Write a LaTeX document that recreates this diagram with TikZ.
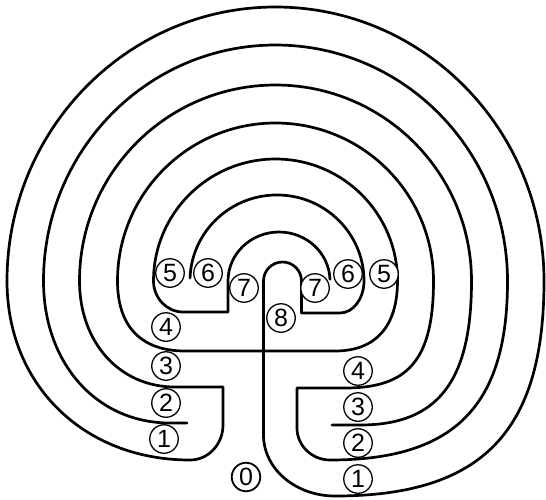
\documentclass[tikz,border=0pt]{standalone}
\usepackage{fontspec}
\setmainfont{Liberation Sans}
\begin{document}
\begin{tikzpicture}[x=1pt,y=-1pt,
  wall/.style={line width=2.7pt, line join=round, line cap=round},
  lab/.style={circle, draw, fill=white, line width=1.3pt, inner sep=0pt, minimum size=28.5pt, font=\fontsize{25}{25}\selectfont}]
\useasboundingbox (0,0) rectangle (546,499);
% wall one
\draw[wall] (190.05,277.96) arc[start angle=182, end angle=360, x radius=87, y radius=86]
  .. controls (364,298.6) and (353.2,313) .. (340,313) -- (301.5,313) -- (301.5,281)
  arc[start angle=360, end angle=180, radius=19]
  -- (263.5,435) .. controls (263.5,469) and (295.7,496) .. (335,496)
  .. controls (481.7,496) and (544,432.2) .. (544,281)
  arc[start angle=360, end angle=180, x radius=268.5, y radius=274]
  .. controls (7,384.8) and (83.6,460) .. (190,460)
  .. controls (208.2,460) and (223,444.3) .. (223,425) -- (223,387) -- (175,387)
  .. controls (119.6,387) and (79.5,342.5) .. (79.5,281)
  arc[start angle=180, end angle=360, x radius=196, y radius=196]
  .. controls (471.5,381.1) and (438,425) .. (360,425) -- (332,425);
% wall two
\draw[wall] (187,423) -- (170,423) .. controls (96.6,423) and (43.5,363.4) .. (43.5,281)
  arc[start angle=180, end angle=360, x radius=232, y radius=236]
  .. controls (507.5,406.3) and (454.3,460) .. (330,460)
  .. controls (311.9,460) and (297,445.6) .. (297,428) -- (297,388) -- (345,388)
  .. controls (407,388) and (433.5,361.3) .. (433.5,281)
  arc[start angle=360, end angle=180, radius=158]
  .. controls (117.5,326.5) and (141.1,351) .. (185,351) -- (335,351)
  .. controls (375.6,351) and (397.5,326.5) .. (397.5,281)
  arc[start angle=360, end angle=180, radius=122]
  .. controls (153.5,298) and (166.8,312) .. (183,312) -- (228,312) -- (228,281)
  arc[start angle=180, end angle=358, x radius=51, y radius=49];
% labels
\node[lab] (l5) at (170,273) {5};
\node[lab] (l6) at (208,273) {6};
\node[lab] (l7) at (244,288) {7};
\node[lab] (c8) at (281,318) {8};
\node[lab] (r7) at (315,288) {7};
\node[lab] (r6) at (348,274) {6};
\node[lab] (r5) at (384,274) {5};
\node[lab] (l4) at (166,327) {4};
\node[lab] (l3) at (166,366) {3};
\node[lab] (l2) at (166,403) {2};
\node[lab] (l1) at (164,439) {1};
\node[lab] (r4) at (358,371) {4};
\node[lab] (r3) at (358,407) {3};
\node[lab] (r2) at (358,443) {2};
\node[lab] (r1) at (358,479) {1};
\node[lab, line width=1.8pt] (z0) at (246,477) {0};
\end{tikzpicture}
\end{document}
